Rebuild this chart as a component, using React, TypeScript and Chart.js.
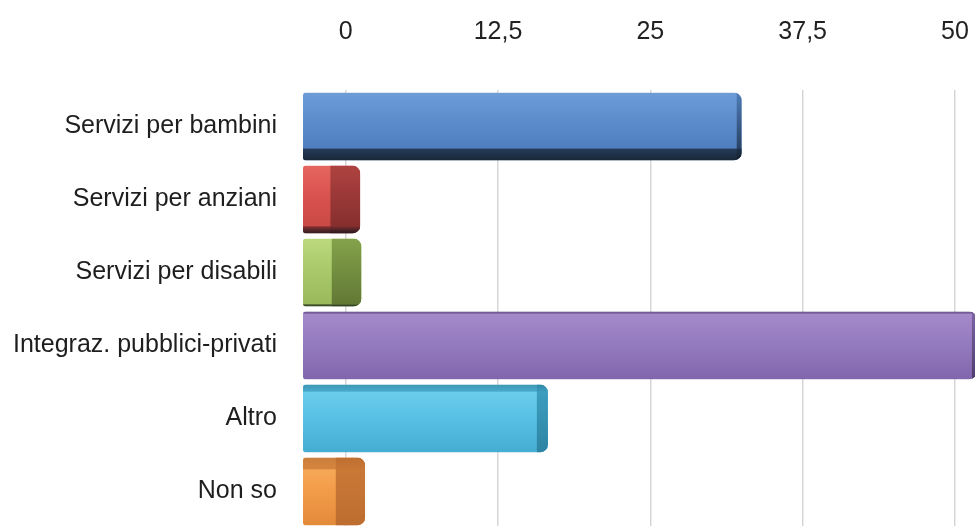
import React, { useEffect, useRef } from 'react';
import { Chart, registerables } from 'chart.js';

Chart.register(...registerables);

// ---- data ----
const categories = [
  'Servizi per bambini',
  'Servizi per anziani',
  'Servizi per disabili',
  'Integraz. pubblici-privati',
  'Altro',
  'Non so',
];
const values = [32.5, 1.2, 1.3, 51.8, 16.6, 1.6];
const tickValues = [0, 12.5, 25, 37.5, 50];
const axisMin = -3.5; // front face of the 3D bars sits left of the zero wall
const axisMax = 50;

// ---- styles ----
const lightColors = ['#6d9dd8', '#e5675f', '#bcd97e', '#a68bcb', '#6fd0ee', '#f8b060'];
const faceColors = ['#5b8bcb', '#d9534f', '#a9c96a', '#957bbf', '#59c2e5', '#f39d4a'];
const darkColors = ['#4a79b8', '#c64643', '#98b85a', '#8266ad', '#45acd2', '#e38a3a'];
const capColors = ['#4b78b5', '#a83f3d', '#7e9c45', '#7a5fa2', '#3a9bbe', '#c77634'];
const edgeColors = ['#1d3048', '#7a2a2a', '#5a7030', '#4b3866', '#2a7f9c', '#b86a2e'];

const FONT = { family: '"Liberation Sans", Arial, Helvetica, sans-serif', size: 25 };

const bar3d = {
  id: 'bar3d',
  afterDatasetsDraw(chart: any) {
    const ctx = chart.ctx as CanvasRenderingContext2D;
    const meta = chart.getDatasetMeta(0);
    const area = chart.chartArea;
    const cx = (area.left + area.right) / 2;
    const cy = (area.top + area.bottom) / 2;
    meta.data.forEach((el: any, i: number) => {
      const p = el.getProps(['x', 'y', 'base', 'height'], true);
      const left = Math.min(p.x, p.base);
      const right = Math.max(p.x, p.base);
      const top = p.y - p.height / 2;
      const bottom = p.y + p.height / 2;
      const w = right - left;
      const h = bottom - top;
      const cap = Math.max(5, Math.min(30, (cx + 30 - right) * 0.1));
      const dy = p.y - cy;
      const strip = Math.min(13, Math.abs(dy) * 0.065);

      ctx.save();
      ctx.beginPath();
      (ctx as any).roundRect(left, top, w, h, [3, 8, 8, 3]);
      ctx.clip();

      const g = ctx.createLinearGradient(0, top, 0, bottom);
      g.addColorStop(0, lightColors[i]);
      g.addColorStop(0.45, faceColors[i]);
      g.addColorStop(1, darkColors[i]);
      ctx.fillStyle = g;
      ctx.fillRect(left, top, w, h);

      // end cap
      const cg = ctx.createLinearGradient(0, top, 0, bottom);
      cg.addColorStop(0, capColors[i]);
      cg.addColorStop(1, edgeColors[i]);
      ctx.globalAlpha = 0.9;
      ctx.fillStyle = cg;
      ctx.fillRect(right - cap, top, cap, h);
      ctx.globalAlpha = 1;

      // top / bottom face
      if (strip > 1) {
        if (dy < 0) {
          const sg = ctx.createLinearGradient(0, bottom - strip, 0, bottom);
          sg.addColorStop(0, edgeColors[i]);
          sg.addColorStop(1, '#101820');
          ctx.fillStyle = sg;
          ctx.globalAlpha = 0.85;
          ctx.fillRect(left, bottom - strip, w, strip);
        } else {
          const sg = ctx.createLinearGradient(0, top, 0, top + strip);
          sg.addColorStop(0, edgeColors[i]);
          sg.addColorStop(1, capColors[i]);
          ctx.fillStyle = sg;
          ctx.globalAlpha = 0.7;
          ctx.fillRect(left, top, w, strip);
        }
      }
      ctx.restore();
    });
  },
};

export default function App() {
  const ref = useRef<HTMLCanvasElement | null>(null);

  useEffect(() => {
    if (!ref.current) return;
    const chart = new Chart(ref.current, {
      type: 'bar',
      data: {
        labels: categories,
        datasets: [
          {
            data: values,
            backgroundColor: 'rgba(0,0,0,0)',
            borderWidth: 0,
            base: axisMin,
            barPercentage: 0.93,
            categoryPercentage: 1,
            clip: false as any,
          } as any,
        ],
      },
      options: {
        indexAxis: 'y',
        animation: false,
        responsive: true,
        maintainAspectRatio: false,
        devicePixelRatio: 1,
        layout: { padding: { left: 0, right: 20, top: 0, bottom: 0 } },
        plugins: { legend: { display: false }, tooltip: { enabled: false } },
        scales: {
          x: {
            type: 'linear',
            position: 'top',
            min: axisMin,
            max: axisMax,
            afterBuildTicks: (s: any) => {
              s.ticks = tickValues.map((v) => ({ value: v }));
            },
            afterFit: (s: any) => {
              s.height = 90;
              s.paddingLeft = 0;
              s.paddingRight = 0;
            },
            ticks: {
              padding: 43,
              font: FONT,
              color: '#222',
              callback: (v: any) => String(v).replace('.', ','),
            },
            grid: { color: 'rgba(0,0,0,0.16)', lineWidth: 1.5, drawTicks: false },
            border: { display: false },
          },
          y: {
            afterFit: (s: any) => {
              s.width = 303;
              s.paddingTop = 0;
              s.paddingBottom = 0;
            },
            ticks: { padding: 26, font: FONT, color: '#1e1e1e' },
            grid: { display: false, drawTicks: false },
            border: { display: false },
          },
        },
      },
      plugins: [bar3d],
    });
    return () => chart.destroy();
  }, []);

  return (
    <div style={{ position: 'fixed', left: 0, top: 0, width: 975, height: 528, background: '#fff' }}>
      <canvas ref={ref} />
    </div>
  );
}
